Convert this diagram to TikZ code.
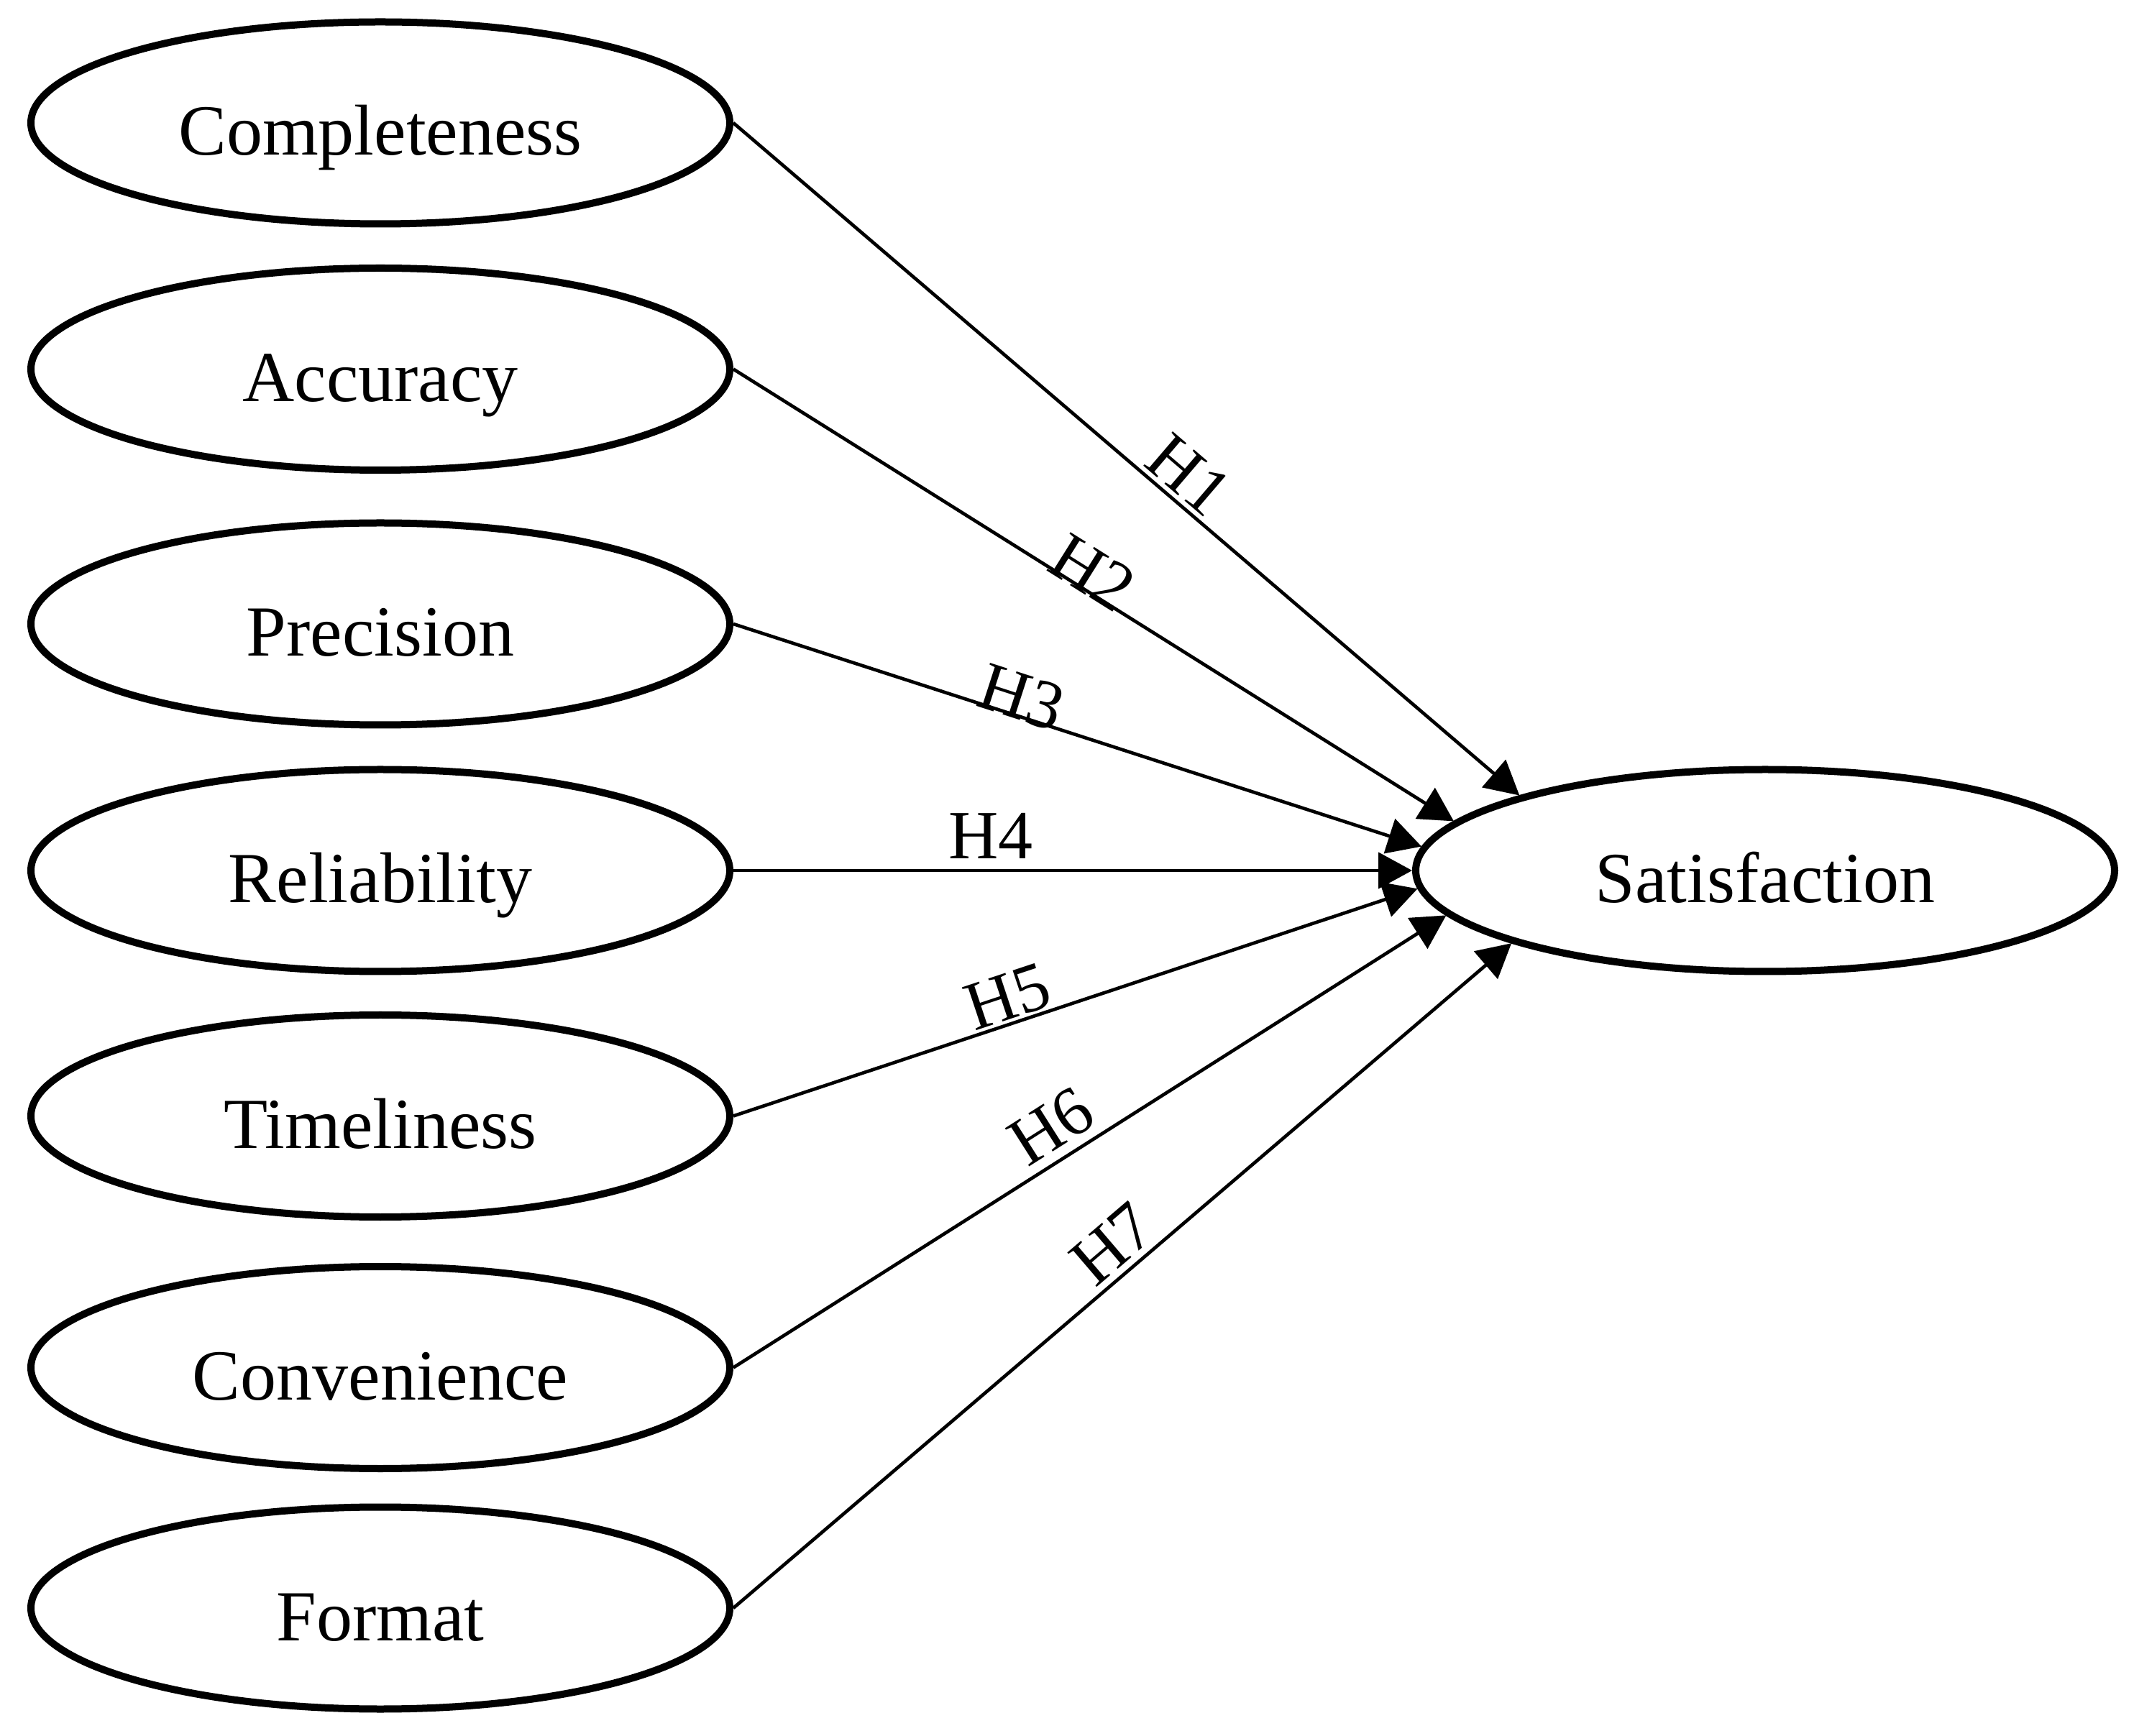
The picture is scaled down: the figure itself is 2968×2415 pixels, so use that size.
\documentclass[tikz,border=0pt]{standalone}
\usepackage{fontspec}
\setmainfont{Liberation Serif}
\usetikzlibrary{shapes.geometric,arrows.meta}
\begin{document}
\begin{tikzpicture}[x=0.25pt, y=-0.25pt,
  latent/.style={draw, ellipse, line width=2.5pt, minimum width=243pt, minimum height=70.25pt,
    inner sep=0pt, text height=22.5pt, text depth=0pt, font=\fontsize{25pt}{30pt}\selectfont},
  conn/.style={line width=1.17pt, -{Triangle[length=11.75pt,width=12.5pt]}},
  hyp/.style={sloped, inner sep=0pt, font=\fontsize{24pt}{28pt}\selectfont}]
\useasboundingbox (0,0) rectangle (2968,2415);

\node[latent] (c1) at (529,171) {Completeness};
\node[latent] (c2) at (529,513.5) {Accuracy};
\node[latent] (c3) at (529,868) {Precision};
\node[latent] (c4) at (529,1211) {Reliability};
\node[latent] (c5) at (529,1552.5) {Timeliness};
\node[latent] (c6) at (529,1902.5) {Convenience};
\node[latent] (c7) at (529,2237) {Format};
\node[latent] (sat) at (2455,1211) {Satisfaction};

\draw[conn] (c1.east) -- (sat.163.5) node[hyp, pos=0.556, above=1.5pt] {H1};
\draw[conn] (c2.east) -- (sat.171.6) node[hyp, pos=0.485, above=-2pt] {H2};
\draw[conn] (c3.east) -- (sat.176.2) node[hyp, pos=0.41, above=-2.1pt] {H3};
\draw[conn] (c4.east) -- (sat.180) node[hyp, pos=0.379, above=3.5pt] {H4};
\draw[conn] (c5.east) -- (sat.183.8) node[hyp, pos=0.413, above=0.75pt] {H5};
\draw[conn] (c6.east) -- (sat.188.4) node[hyp, pos=0.471, above=3pt] {H6};
\draw[conn] (c7.east) -- (sat.196.3) node[hyp, pos=0.513, above=2.25pt] {H7};
\end{tikzpicture}
\end{document}
